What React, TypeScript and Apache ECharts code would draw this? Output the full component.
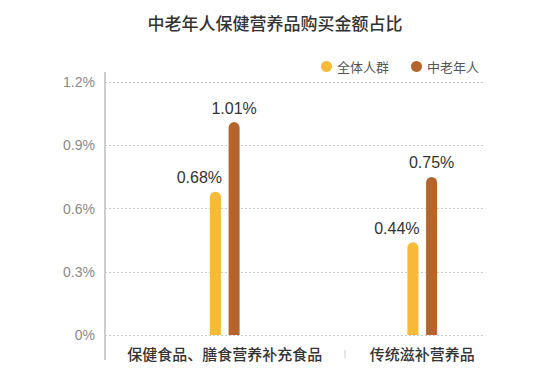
import React, { useEffect, useRef } from "react";
import * as echarts from "echarts";

const title = "中老年人保健营养品购买金额占比";
const categories = ["保健食品、膳食营养补充食品", "传统滋补营养品"];
const seriesNames = ["全体人群", "中老年人"];
const allPeople = [0.68, 0.44];
const elderly = [1.01, 0.75];
const yTicks = [0, 0.3, 0.6, 0.9, 1.2];

const YELLOW = "#F6B938";
const BROWN = "#B5642E";
const NUM_FONT = "'Liberation Sans', 'Noto Sans CJK SC', sans-serif";
const CJK_FONT = "'Noto Sans CJK SC', sans-serif";

export default function App() {
  const ref = useRef<HTMLDivElement>(null);
  useEffect(() => {
    if (!ref.current) return;
    const chart = echarts.init(ref.current, undefined, { renderer: "svg" });
    const yMin = yTicks[0];
    const yMax = yTicks[yTicks.length - 1];
    const yInterval = yTicks[1] - yTicks[0];
    chart.setOption({
      animation: false,
      backgroundColor: "#ffffff",
      title: {
        text: title,
        left: "center",
        top: 9,
        textStyle: { fontFamily: CJK_FONT, fontSize: 17, fontWeight: 500, color: "#333333" },
      },
      legend: {
        data: seriesNames,
        right: 66,
        top: 55,
        icon: "circle",
        itemWidth: 11,
        itemHeight: 11,
        itemGap: 22,
        textStyle: { fontFamily: CJK_FONT, fontSize: 13, color: "#555555" },
      },
      grid: [
        { left: 105, right: 67, top: 82, bottom: 47 },
        { left: 126, right: 29, top: 82, bottom: 47 },
      ],
      xAxis: [
        { type: "category", gridIndex: 0, data: categories, show: false },
        {
          type: "category",
          gridIndex: 1,
          data: categories,
          axisLine: { show: false },
          axisTick: { show: false },
          axisLabel: {
            interval: 0,
            hideOverlap: false,
            margin: 11,
            fontFamily: CJK_FONT,
            fontSize: 15,
            fontWeight: 500,
            color: "#333333",
          },
        },
      ],
      yAxis: [
        {
          type: "value",
          gridIndex: 0,
          min: yMin,
          max: yMax,
          interval: yInterval,
          axisLine: { show: false },
          axisTick: { show: false },
          axisLabel: {
            margin: 10,
            fontFamily: NUM_FONT,
            fontSize: 14,
            color: "#8a8a8a",
            formatter: (v: number) => `${Math.round(v * 10) / 10}%`,
          },
          splitLine: { show: true, lineStyle: { type: [2, 2], color: "#c8c8c8", width: 1 } },
        },
        {
          type: "value",
          gridIndex: 1,
          min: yMin,
          max: yMax,
          interval: yInterval,
          show: false,
          splitLine: { show: false },
        },
      ],
      series: [
        {
          name: seriesNames[0],
          type: "bar",
          xAxisIndex: 1,
          yAxisIndex: 1,
          data: allPeople,
          barWidth: 11,
          barGap: "70%",
          itemStyle: { color: YELLOW, borderRadius: [6, 6, 0, 0] },
          label: {
            show: true,
            position: "top",
            distance: 6,
            offset: [-16, 0],
            formatter: (p: any) => `${p.value.toFixed(2)}%`,
            fontFamily: NUM_FONT,
            fontSize: 16,
            color: "#333333",
          },
        },
        {
          name: seriesNames[1],
          type: "bar",
          xAxisIndex: 1,
          yAxisIndex: 1,
          data: elderly,
          barWidth: 11,
          barGap: "70%",
          itemStyle: { color: BROWN, borderRadius: [6, 6, 0, 0] },
          label: {
            show: true,
            position: "top",
            distance: 6,
            formatter: (p: any) => `${p.value.toFixed(2)}%`,
            fontFamily: NUM_FONT,
            fontSize: 16,
            color: "#333333",
          },
        },
      ],
      graphic: [
        {
          type: "line",
          shape: { x1: 105, y1: 72, x2: 105, y2: 360 },
          style: { stroke: "#bdbdbd", lineWidth: 1.5 },
        },
        {
          type: "line",
          shape: { x1: 345, y1: 350, x2: 345, y2: 358 },
          style: { stroke: "#cccccc", lineWidth: 1 },
        },
      ],
    });
    return () => chart.dispose();
  }, []);
  return <div ref={ref} style={{ width: 550, height: 382, margin: -8 }} />;
}
